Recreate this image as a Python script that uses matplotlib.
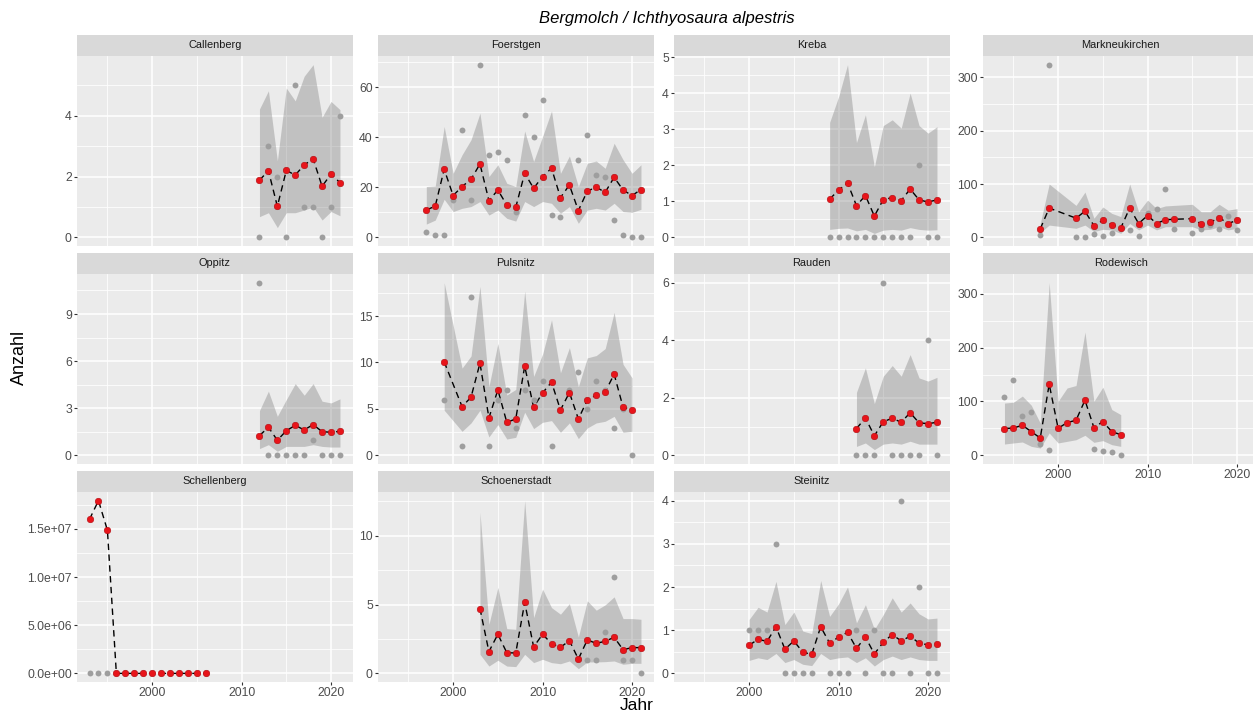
import numpy as np
import matplotlib.pyplot as plt

plt.rcParams['font.family'] = ['Liberation Sans', 'DejaVu Sans']

nan = np.nan

# ---- Daten je Standort: Jahr, Zählung, Modell (fit) mit Unter-/Obergrenze ----

callenberg_years = [2012, 2013, 2014, 2015, 2016, 2017, 2018, 2019, 2020, 2021]
callenberg_count = [0, 3, 2, 0, 5, 1, 1, 0, 1, 4]
callenberg_fit = [1.88, 2.19, 1.02, 2.20, 2.05, 2.38, 2.58, 1.68, 2.08, 1.80]
callenberg_lo = [0.68, 0.81, 0.32, 0.81, 0.81, 0.90, 1.00, 0.57, 0.85, 0.71]
callenberg_hi = [4.22, 4.82, 2.52, 4.91, 4.49, 5.30, 5.68, 3.95, 4.47, 4.20]
callenberg_yticks = [0, 2, 4]

foerstgen_years = [1997, 1998, 1999, 2000, 2001, 2002, 2003, 2004, 2005, 2006, 2007, 2008, 2009,
                   2010, 2011, 2012, 2013, 2014, 2015, 2016, 2017, 2018, 2019, 2020, 2021]
foerstgen_count = [2, 1, 1, 15, 43, 15, 69, 33, 34, 31, 10, 49, 40,
                   55, 9, 8, nan, 31, 41, 25, 24, 7, 1, 0, 0]
foerstgen_fit = [10.9, 12.5, 27.2, 16.7, 20.3, 23.2, 29.3, 14.7, 18.9, 12.9, 12.0, 25.6, 19.6,
                 24.3, 27.6, 15.9, 20.9, 10.7, 18.5, 20.0, 18.0, 24.0, 18.9, 16.7, 19.1]
foerstgen_lo = [5.3, 6.9, 15.2, 10.3, 11.6, 12.3, 14.3, 8.9, 10.9, 7.6, 6.5, 14.3, 12.3,
                14.3, 13.6, 9.6, 12.3, 5.6, 10.9, 11.6, 10.9, 13.6, 10.3, 10.0, 11.2]
foerstgen_hi = [20.3, 20.5, 44.3, 25.6, 33.0, 39.0, 49.6, 24.3, 29.0, 21.6, 20.3, 42.5, 30.3,
                40.3, 50.5, 25.6, 32.5, 20.3, 29.6, 30.5, 27.6, 37.6, 31.0, 25.6, 29.0]
foerstgen_yticks = [0, 20, 40, 60]

kreba_years = [2009, 2010, 2011, 2012, 2013, 2014, 2015, 2016, 2017, 2018, 2019, 2020, 2021]
kreba_count = [0, 0, 0, 0, 0, 0, 0, 0, 0, 0, 2, 0, 0]
kreba_fit = [1.06, 1.31, 1.51, 0.88, 1.16, 0.59, 1.05, 1.10, 1.02, 1.34, 1.04, 0.98, 1.04]
kreba_lo = [0.22, 0.25, 0.26, 0.18, 0.22, 0.11, 0.20, 0.22, 0.20, 0.27, 0.22, 0.20, 0.21]
kreba_hi = [3.19, 3.90, 4.79, 2.63, 3.40, 1.96, 3.10, 3.26, 3.03, 4.00, 3.10, 2.89, 3.07]
kreba_yticks = [0, 1, 2, 3, 4, 5]

markneukirchen_years = [1998, 1999, 2002, 2003, 2004, 2005, 2006, 2007, 2008, 2009, 2010,
                        2011, 2012, 2013, 2015, 2016, 2017, 2018, 2019, 2020]
markneukirchen_count = [4, 324, 0, 1, 7, 3, 9, nan, 13, 2, 46,
                        54, 91, 15, 9, 15, 23, 15, 41, 13]
markneukirchen_fit = [16, 55, 36, 49, 22, 32, 24, 17.5, 55, 26, 41,
                      26, 33, 34, 35, 25, 28, 37, 26, 32]
markneukirchen_lo = [9, 23, 17, 23, 11, 15, 14, 7.5, 26, 14, 23,
                     14, 20, 20, 20, 14, 15, 20, 14, 17]
markneukirchen_hi = [26, 100, 60, 85, 36, 57, 45, 39, 100, 48, 70,
                     54, 59, 60, 62, 48, 48, 62, 51, 54]
markneukirchen_yticks = [0, 100, 200, 300]

oppitz_years = [2012, 2013, 2014, 2015, 2016, 2017, 2018, 2019, 2020, 2021]
oppitz_count = [11, 0, 0, 0, 0, 0, 1, 0, 0, 0]
oppitz_fit = [1.26, 1.79, 0.96, 1.57, 1.91, 1.62, 1.96, 1.51, 1.47, 1.53]
oppitz_lo = [0.43, 0.68, 0.26, 0.57, 0.57, 0.57, 0.68, 0.57, 0.53, 0.53]
oppitz_hi = [2.85, 4.09, 2.49, 3.55, 4.57, 3.83, 4.57, 3.45, 3.34, 3.60]
oppitz_yticks = [0, 3, 6, 9]

pulsnitz_years = [1999, 2001, 2002, 2003, 2004, 2005, 2006, 2007, 2008, 2009, 2010,
                  2011, 2012, 2013, 2014, 2015, 2016, 2017, 2018, 2019, 2020]
pulsnitz_count = [6, 1, 17, nan, 1, 6, 7, 3, 7, 6, 8,
                  1, nan, 7, 9, 5, 8, 7, 3, 5, 0]
pulsnitz_fit = [10.07, 5.25, 6.26, 9.93, 4.03, 7.05, 3.56, 3.92, 9.60, 5.18, 6.73,
                7.88, 4.89, 6.76, 3.92, 5.94, 6.51, 6.83, 8.74, 5.18, 4.89]
pulsnitz_lo = [4.86, 2.59, 3.49, 4.86, 1.98, 3.31, 1.76, 1.94, 4.64, 2.88, 3.56,
               3.74, 2.48, 3.49, 1.80, 2.95, 3.49, 3.67, 4.20, 2.48, 2.59]
pulsnitz_hi = [18.6, 9.4, 10.7, 18.2, 7.4, 12.05, 6.5, 7.1, 17.7, 8.5, 10.9,
               14.6, 8.9, 11.6, 7.4, 10.5, 10.75, 11.5, 15.4, 9.8, 8.35]
pulsnitz_yticks = [0, 5, 10, 15]

rauden_years = [2012, 2013, 2014, 2015, 2016, 2017, 2018, 2019, 2020, 2021]
rauden_count = [0, 0, 0, 6, 0, 0, 0, 0, 4, 0]
rauden_fit = [0.93, 1.30, 0.68, 1.17, 1.29, 1.15, 1.48, 1.13, 1.10, 1.15]
rauden_lo = [0.31, 0.43, 0.20, 0.39, 0.43, 0.39, 0.49, 0.39, 0.39, 0.39]
rauden_hi = [2.19, 3.04, 1.80, 2.75, 3.12, 2.75, 3.50, 2.69, 2.58, 2.71]
rauden_yticks = [0, 2, 4, 6]

rodewisch_years = [1994, 1995, 1996, 1997, 1998, 1999, 2000, 2001, 2002, 2003, 2004, 2005, 2006, 2007]
rodewisch_count = [109, 140, 73, 81, 21, 10, nan, nan, nan, nan, 11, 8, 7, 0]
rodewisch_fit = [49.6, 50.8, 55.8, 44.0, 32.2, 132.0, 50.2, 60.8, 65.1, 102.3, 51.5, 62.6, 44.0, 38.4]
rodewisch_lo = [21, 23, 24.8, 16.7, 13.6, 41.5, 23, 26, 29, 37.2, 24.2, 27.3, 19.8, 16.7]
rodewisch_hi = [97, 98.6, 110, 93, 60, 320.5, 100.4, 125, 129.6, 228.8, 100.4, 126.5, 85, 75.6]
rodewisch_yticks = [0, 100, 200, 300]

schellenberg_years = [1993, 1994, 1995, 1996, 1997, 1998, 1999, 2000, 2001, 2002, 2003, 2004, 2005, 2006]
schellenberg_count = [0, 0, 0, 0, 0, 0, 0, 0, 0, 0, 0, 0, 0, 0]
schellenberg_fit = [1.60e7, 1.793e7, 1.486e7, 0, 0, 0, 0, 0, 0, 0, 0, 0, 0, 0]
schellenberg_yticks = [0, 5e6, 1e7, 1.5e7]
schellenberg_ylabels = ['0.0e+00', '5.0e+06', '1.0e+07', '1.5e+07']

schoenerstadt_years = [2003, 2004, 2005, 2006, 2007, 2008, 2009, 2010, 2011, 2012,
                       2013, 2014, 2015, 2016, 2017, 2018, 2019, 2020, 2021]
schoenerstadt_count = [nan, nan, nan, nan, nan, nan, nan, nan, nan, nan,
                       nan, nan, 1, 1, 3, 7, 1, 1, 0]
schoenerstadt_fit = [4.71, 1.58, 2.84, 1.50, 1.48, 5.15, 1.92, 2.84, 2.16, 1.89,
                     2.38, 1.04, 2.43, 2.18, 2.33, 2.62, 1.72, 1.87, 1.87]
schoenerstadt_lo = [1.38, 0.53, 0.95, 0.53, 0.49, 1.38, 0.78, 1.02, 0.78, 0.70,
                    0.90, 0.34, 0.83, 0.83, 0.85, 0.90, 0.66, 0.73, 0.73]
schoenerstadt_hi = [11.7, 3.57, 6.24, 3.25, 3.20, 12.55, 4.05, 6.12, 4.78, 4.30,
                    5.07, 2.65, 5.27, 4.59, 4.98, 5.56, 3.98, 3.98, 3.93]
schoenerstadt_yticks = [0, 5, 10]

steinitz_years = [2000, 2001, 2002, 2003, 2004, 2005, 2006, 2007, 2008, 2009, 2010,
                  2011, 2012, 2013, 2014, 2015, 2016, 2017, 2018, 2019, 2020, 2021]
steinitz_count = [1, 1, 1, 3, 0, 0, 0, 0, nan, 0, 0,
                  0, 1, 0, 1, 0, 0, 4, 0, 2, 0, 0]
steinitz_fit = [0.65, 0.79, 0.74, 1.08, 0.56, 0.75, 0.49, 0.44, 1.08, 0.70, 0.84,
                0.95, 0.58, 0.84, 0.45, 0.72, 0.90, 0.75, 0.86, 0.70, 0.66, 0.68]
steinitz_lo = [0.30, 0.36, 0.32, 0.46, 0.25, 0.32, 0.21, 0.18, 0.46, 0.32, 0.36,
               0.38, 0.25, 0.36, 0.17, 0.32, 0.40, 0.32, 0.38, 0.32, 0.30, 0.30]
steinitz_hi = [1.25, 1.53, 1.42, 2.13, 1.13, 1.42, 0.98, 0.92, 2.15, 1.32, 1.61,
               2.00, 1.17, 1.59, 1.02, 1.36, 1.75, 1.42, 1.63, 1.38, 1.26, 1.28]
steinitz_yticks = [0, 1, 2, 3, 4]

x_ticks = [2000, 2010, 2020]
x_minor = [1995, 2005, 2015]

# name -> (years, count, fit, lo, hi, yticks, yticklabels)
sites = [
    ('Callenberg', callenberg_years, callenberg_count, callenberg_fit, callenberg_lo, callenberg_hi, callenberg_yticks, None),
    ('Foerstgen', foerstgen_years, foerstgen_count, foerstgen_fit, foerstgen_lo, foerstgen_hi, foerstgen_yticks, None),
    ('Kreba', kreba_years, kreba_count, kreba_fit, kreba_lo, kreba_hi, kreba_yticks, None),
    ('Markneukirchen', markneukirchen_years, markneukirchen_count, markneukirchen_fit, markneukirchen_lo, markneukirchen_hi, markneukirchen_yticks, None),
    ('Oppitz', oppitz_years, oppitz_count, oppitz_fit, oppitz_lo, oppitz_hi, oppitz_yticks, None),
    ('Pulsnitz', pulsnitz_years, pulsnitz_count, pulsnitz_fit, pulsnitz_lo, pulsnitz_hi, pulsnitz_yticks, None),
    ('Rauden', rauden_years, rauden_count, rauden_fit, rauden_lo, rauden_hi, rauden_yticks, None),
    ('Rodewisch', rodewisch_years, rodewisch_count, rodewisch_fit, rodewisch_lo, rodewisch_hi, rodewisch_yticks, None),
    ('Schellenberg', schellenberg_years, schellenberg_count, schellenberg_fit, None, None, schellenberg_yticks, schellenberg_ylabels),
    ('Schoenerstadt', schoenerstadt_years, schoenerstadt_count, schoenerstadt_fit, schoenerstadt_lo, schoenerstadt_hi, schoenerstadt_yticks, None),
    ('Steinitz', steinitz_years, steinitz_count, steinitz_fit, steinitz_lo, steinitz_hi, steinitz_yticks, None),
]

# ---- Layout (Pixel) ----
W, H = 1253, 716
fig = plt.figure(figsize=(W / 100, H / 100), dpi=100)

col_left = [77, 378, 674, 983]
row_top = [56, 274, 492]
panel_w = 275.5
panel_h = 190
strip_h = 21

all_years = np.concatenate([np.asarray(s[1], float) for s in sites])
xmin, xmax = all_years.min(), all_years.max()
xpad = 0.05 * (xmax - xmin)


def px_axes(x, y, w, h):
    return fig.add_axes([x / W, 1 - (y + h) / H, w / W, h / H])


for i, (name, years, count, fit, lo, hi, yticks, ylabels) in enumerate(sites):
    r, c = divmod(i, 4)
    ax = px_axes(col_left[c], row_top[r], panel_w, panel_h)
    years = np.asarray(years, float)
    count = np.asarray(count, float)
    fit = np.asarray(fit, float)

    if lo is not None:
        ax.fill_between(years, lo, hi, color='#7f7f7f', alpha=0.38, lw=0, zorder=2)
    ax.plot(years, fit, color='black', lw=1.0, ls=(0, (4.6, 3.2)), zorder=3)
    ax.scatter(years, count, s=18, color='#9e9e9e', lw=0, zorder=4)
    ax.scatter(years, fit, s=22, color='#e8141a', edgecolor='#b00b10', lw=0.4, zorder=5)

    vals = [count, fit] + ([np.asarray(lo, float), np.asarray(hi, float)] if lo is not None else [])
    vals = np.concatenate(vals)
    ymin, ymax = np.nanmin(vals), np.nanmax(vals)
    ypad = 0.05 * (ymax - ymin)

    # Ticks zuerst setzen, danach die Grenzen (set_ticks weitet sonst die Achse)
    step = yticks[1] - yticks[0]
    ax.set_yticks(yticks)
    ax.set_yticks(np.arange(yticks[0] - step / 2, ymax + ypad, step), minor=True)
    ax.set_yticklabels(ylabels if ylabels else ['%g' % t for t in yticks])
    ax.set_xticks(x_ticks)
    ax.set_xticks(x_minor, minor=True)
    ax.set_ylim(ymin - ypad, ymax + ypad)
    ax.set_xlim(xmin - xpad, xmax + xpad)

    ax.set_facecolor('#EBEBEB')
    for sp in ax.spines.values():
        sp.set_visible(False)
    ax.set_axisbelow(True)
    ax.grid(which='major', color='white', lw=1.1)
    ax.grid(which='minor', color='white', lw=0.55)

    ax.tick_params(which='major', length=2.2, width=0.8, color='#333333',
                   labelsize=8.8, labelcolor='#4D4D4D', pad=1.5)
    ax.tick_params(which='minor', length=0)
    # x-Beschriftung nur unter der untersten Facette jeder Spalte
    if not (r == 2 or (r == 1 and c == 3)):
        ax.tick_params(axis='x', which='major', length=0, labelbottom=False)

    strip = px_axes(col_left[c], row_top[r] - strip_h, panel_w, strip_h)
    strip.set_facecolor('#D9D9D9')
    strip.set_xticks([])
    strip.set_yticks([])
    for sp in strip.spines.values():
        sp.set_visible(False)
    strip.text(0.5, 0.5, name, ha='center', va='center', fontsize=7.9,
               color='#1A1A1A', transform=strip.transAxes)

fig.text(667 / W, 1 - 18 / H, 'Bergmolch / Ichthyosaura alpestris',
         ha='center', va='center', fontsize=12, style='italic')
fig.text(19 / W, 1 - 357 / H, 'Anzahl', rotation=90, ha='center', va='center', fontsize=13)
fig.text(637 / W, 1 - 706 / H, 'Jahr', ha='center', va='center', fontsize=12.5)

fig.savefig('out.png', dpi=100)
